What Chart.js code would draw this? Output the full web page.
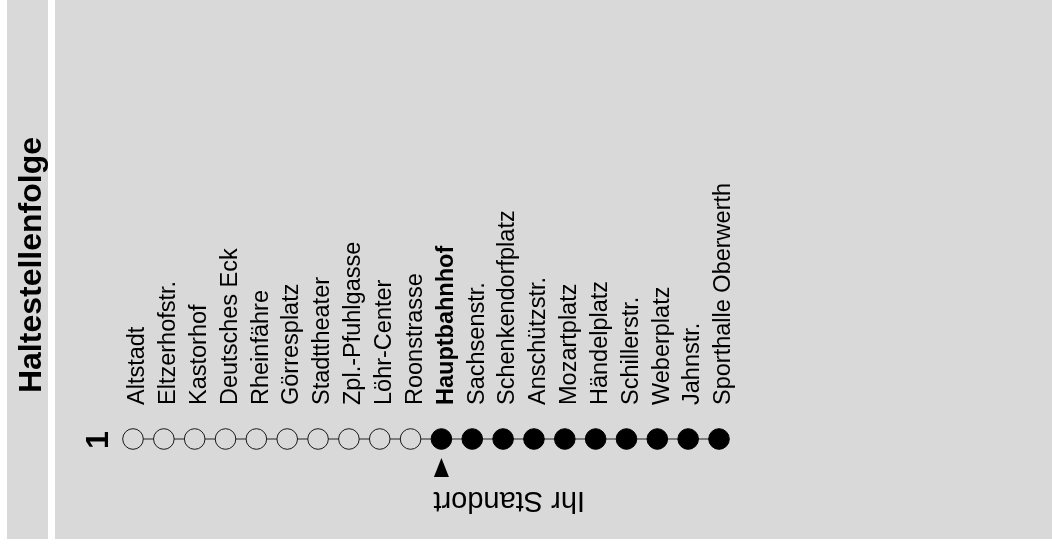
<!DOCTYPE html>
<html>
<head>
<meta charset="utf-8">
<script src="https://cdn.jsdelivr.net/npm/chart.js@4"></script>
<style>
  html, body { margin: 0; padding: 0; background: #ffffff; }
  #Board { display: block; }
</style>
</head>
<body>
<canvas id="Board" width="1052" height="553"></canvas>
<script>
(function () {
    var title = 'Haltestellenfolge';
    var lineNumber = '1';
    var hereLabel = 'Ihr Standort';
    var currentStop = 'Hauptbahnhof';

    var stops = [
        'Altstadt', 'Eltzerhofstr.', 'Kastorhof', 'Deutsches Eck', 'Rheinfähre',
        'Görresplatz', 'Stadttheater', 'Zpl.-Pfuhlgasse', 'Löhr-Center', 'Roonstrasse',
        'Hauptbahnhof', 'Sachsenstr.', 'Schenkendorfplatz', 'Anschützstr.', 'Mozartplatz',
        'Händelplatz', 'Schillerstr.', 'Weberplatz', 'Jahnstr.', 'Sporthalle Oberwerth'
    ];
    var track = [1, 1, 1, 1, 1, 1, 1, 1, 1, 1, 1, 1, 1, 1, 1, 1, 1, 1, 1, 1];

    var panel = '#d9d9d9';
    var ink = '#000000';
    var font = 'Liberation Sans, Arial, Helvetica, sans-serif';
    var here = stops.indexOf(currentStop);

    // gray panels + rotated title, line number, "you are here" marker
    var boardPlugin = {
        id: 'board',
        beforeDraw: function (chart) {
            var ctx = chart.ctx;
            ctx.save();
            ctx.fillStyle = panel;
            ctx.fillRect(7, 0, 41, 539);
            ctx.fillRect(55, 0, 997, 539);

            ctx.fillStyle = ink;
            ctx.font = 'bold 32px ' + font;
            ctx.textAlign = 'center';
            ctx.textBaseline = 'alphabetic';
            ctx.translate(41, 265);
            ctx.rotate(-Math.PI / 2);
            ctx.fillText(title, 0, 0);
            ctx.restore();
        },
        afterDatasetsDraw: function (chart) {
            var ctx = chart.ctx;
            var x = chart.scales.x.getPixelForValue(here);
            var y = chart.scales.y.getPixelForValue(track[here]);
            var first = chart.scales.x.getPixelForValue(0);

            ctx.save();
            ctx.fillStyle = ink;
            ctx.font = 'bold 32px ' + font;
            ctx.textAlign = 'center';
            ctx.textBaseline = 'alphabetic';
            ctx.translate(first - 25, y + 1);
            ctx.rotate(-Math.PI / 2);
            ctx.fillText(lineNumber, 0, 0);
            ctx.restore();

            ctx.save();
            ctx.fillStyle = ink;
            ctx.beginPath();
            ctx.moveTo(x, y + 19);
            ctx.lineTo(x + 7.5, y + 38);
            ctx.lineTo(x - 7.5, y + 38);
            ctx.closePath();
            ctx.fill();

            ctx.font = '29px ' + font;
            ctx.textAlign = 'right';
            ctx.textBaseline = 'alphabetic';
            ctx.translate(x - 8, y + 53);
            ctx.rotate(Math.PI);
            ctx.fillText(hereLabel, 0, 0);
            ctx.restore();
        }
    };

    new Chart(document.getElementById('Board'), {
        type: 'line',
        data: {
            labels: stops,
            datasets: [{
                data: track,
                borderColor: '#222222',
                borderWidth: 1,
                pointStyle: 'circle',
                pointRadius: 10.3,
                pointHoverRadius: 10.3,
                pointBorderWidth: 1,
                pointBorderColor: function (c) { return c.dataIndex < here ? '#1a1a1a' : ink; },
                pointBackgroundColor: function (c) { return c.dataIndex < here ? panel : ink; },
                clip: false
            }]
        },
        options: {
            responsive: false,
            animation: false,
            devicePixelRatio: 1,
            layout: { padding: { left: 133, right: 333, top: 0, bottom: 85 } },
            plugins: { legend: { display: false }, tooltip: { enabled: false } },
            scales: {
                x: {
                    type: 'category',
                    position: 'top',
                    offset: false,
                    grid: { display: false },
                    border: { display: false },
                    afterFit: function (scale) { scale.height = 410; },
                    ticks: {
                        autoSkip: false,
                        minRotation: 90,
                        maxRotation: 90,
                        padding: -3,
                        labelOffset: 33,
                        color: ink,
                        font: function (c) {
                            return { family: font, size: 23.5, weight: c.index === here ? 'bold' : 'normal' };
                        }
                    }
                },
                y: { display: false, min: 0, max: 2 }
            }
        },
        plugins: [boardPlugin]
    });
})();
</script>
</body>
</html>
